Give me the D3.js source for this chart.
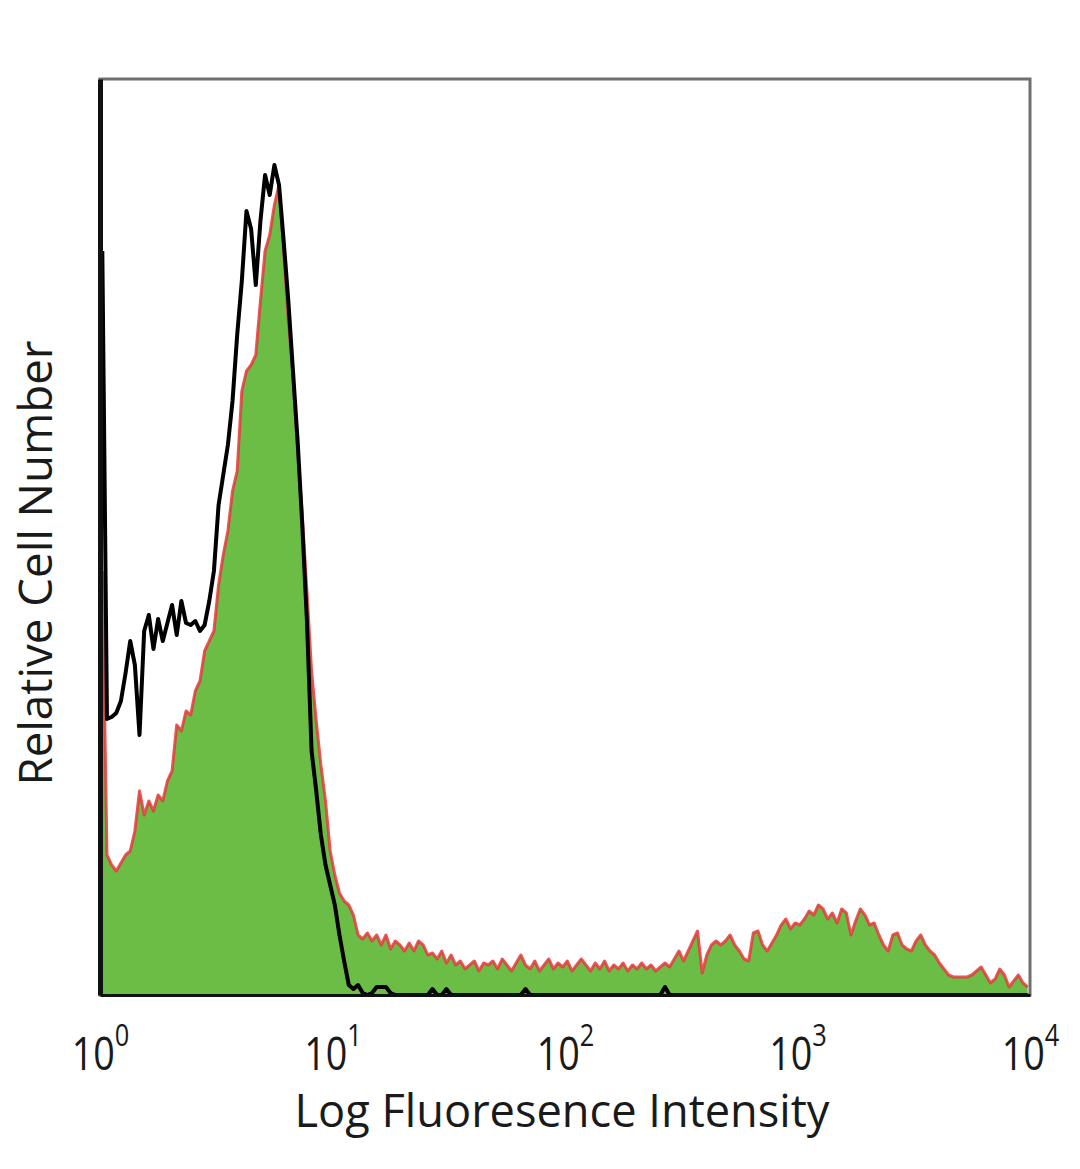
<!DOCTYPE html>
<html>
<head>
<meta charset="utf-8">
<script src="https://cdn.jsdelivr.net/npm/d3@7"></script>
<style>
  html, body { margin: 0; padding: 0; background: #fff; }
  svg { display: block; }
  text { font-family: "Open Sans", "Noto Sans", sans-serif; fill: #1a1a1a; }
</style>
</head>
<body>
<svg id="chart" width="1080" height="1169"></svg>
<script>
// Histogram: 200 channels spanning 4 log decades (10^0 .. 10^4), 0.02 decade per channel
const decadeTicks = [1, 10, 100, 1000, 10000];
const tickExponents = ["0", "1", "2", "3", "4"];
const channelsPerDecade = 50;

// Stained sample (green fill, red outline) – relative counts per channel
const stainedCounts = [
  212,70,65,62,66,70,72,82,102,90,
  97,92,100,97,107,112,135,132,142,140,
  152,157,172,177,182,205,220,232,252,262,
  302,312,315,320,347,372,380,395,405,372,
  337,310,272,240,202,162,137,115,97,72,
  60,51,47,45,40,30,28,31,27,30,
  25,30,23,27,25,22,26,22,27,25,
  20,21,18,22,16,20,15,17,13,15,
  17,12,16,15,17,13,18,15,12,16,
  20,15,13,17,12,15,18,13,16,14,
  17,12,15,18,15,12,16,13,17,12,
  15,13,16,12,15,13,16,13,15,12,
  14,16,14,18,22,17,22,27,32,11,
  20,25,27,25,27,30,25,22,18,17,
  31,32,25,22,26,30,35,38,33,36,
  35,38,42,40,45,43,38,41,36,43,
  41,30,37,43,40,35,36,30,25,22,
  30,31,25,23,22,27,30,25,22,20,
  16,13,10,9,9,9,9,10,12,14,
  10,6,8,13,10,4,7,10,6,4
];

// Isotype control (black line) – relative counts per channel
const controlCounts = [
  372,138,139,141,147,161,177,165,130,182,
  190,173,188,177,186,195,180,197,186,185,
  187,182,185,197,212,245,260,275,297,330,
  357,392,383,355,387,410,400,415,405,377,
  347,312,277,235,187,122,102,80,65,55,
  45,30,17,5,3,5,1,0,1,4,
  4,4,1,0,0,0,0,0,0,0,
  0,3,0,0,3,0,0,0,0,0,
  0,0,0,0,0,0,0,0,0,0,
  0,3,0,0,0,0,0,0,0,0,
  0,0,0,0,0,0,0,0,0,0,
  0,0,0,0,0,0,0,0,0,0,
  0,4,0,0,0,0,0,0,0,0,
  0,0,0,0,0,0,0,0,0,0,
  0,0,0,0,0,0,0,0,0,0,
  0,0,0,0,0,0,0,0,0,0,
  0,0,0,0,0,0,0,0,0,0,
  0,0,0,0,0,0,0,0,0,0,
  0,0,0,0,0,0,0,0,0,0,
  0,0,0,0,0,0,0,0,0,0
];

const xLabel = "Log Fluoresence Intensity";
const yLabel = "Relative Cell Number";
const yMax = 458;

// ---- layout ----
const margin = { left: 100, top: 79, right: 50, bottom: 174 };
const W = 1080, H = 1169;
const plotW = W - margin.left - margin.right;   // 930
const plotH = H - margin.top - margin.bottom;   // 916

const svg = d3.select("#chart");
const g = svg.append("g").attr("transform", `translate(${margin.left},${margin.top})`);

const x = d3.scaleLog().domain([1, 10000]).range([0, plotW]);
const y = d3.scaleLinear().domain([0, yMax]).range([plotH, 0]);

const channelValue = i => Math.pow(10, (i + 0.5) / channelsPerDecade);
const stained = stainedCounts.map((c, i) => ({ v: channelValue(i), c }));
const control = controlCounts.map((c, i) => ({ v: channelValue(i), c }));

// frame
g.append("rect")
  .attr("x", 0).attr("y", 0).attr("width", plotW).attr("height", plotH)
  .attr("fill", "none").attr("stroke", "#6f6f6f").attr("stroke-width", 3);

// stained area
const area = d3.area().x(d => x(d.v)).y0(y(0)).y1(d => y(d.c)).curve(d3.curveLinear);
const line = d3.line().x(d => x(d.v)).y(d => y(d.c)).curve(d3.curveLinear);

g.append("path").datum(stained)
  .attr("d", area).attr("fill", "#6bbd46").attr("stroke", "none");
g.append("path").datum(stained)
  .attr("d", line).attr("fill", "none").attr("stroke", "#e5383b")
  .attr("stroke-width", 3).attr("stroke-linejoin", "round").attr("stroke-opacity", 0.85);

// control line
g.append("path").datum(control)
  .attr("d", line).attr("fill", "none").attr("stroke", "#000")
  .attr("stroke-width", 4).attr("stroke-linejoin", "round");

// axes (no tick marks visible)
const xAxis = d3.axisBottom(x).tickValues(decadeTicks).tickSize(0).tickFormat(() => "");
const xg = g.append("g").attr("transform", `translate(0,${plotH})`).call(xAxis);
xg.select(".domain").attr("stroke", "#111").attr("stroke-width", 3);

const yAxis = d3.axisLeft(y).tickValues([]).tickSize(0);
const yg = g.append("g").call(yAxis);
yg.select(".domain").attr("stroke", "#111").attr("stroke-width", 5);

// tick labels with superscripts
xg.selectAll(".tick").each(function(d, i) {
  const t = d3.select(this).append("text")
    .attr("transform", `translate(0,75) scale(0.82,1)`)
    .attr("text-anchor", "middle")
    .style("font-size", "46px")
    .attr("fill", "#1a1a1a");
  t.append("tspan").text("10");
  t.append("tspan").attr("dy", -24).style("font-size", "31px").text(tickExponents[i]);
});

// axis titles
svg.append("text")
  .attr("x", 562).attr("y", 1127)
  .attr("text-anchor", "middle")
  .style("font-size", "46px")
  .attr("textLength", 535).attr("lengthAdjust", "spacingAndGlyphs")
  .text(xLabel);

svg.append("text")
  .attr("transform", "translate(52,563) rotate(-90)")
  .attr("text-anchor", "middle")
  .style("font-size", "46px")
  .attr("textLength", 445).attr("lengthAdjust", "spacingAndGlyphs")
  .text(yLabel);
</script>
</body>
</html>
